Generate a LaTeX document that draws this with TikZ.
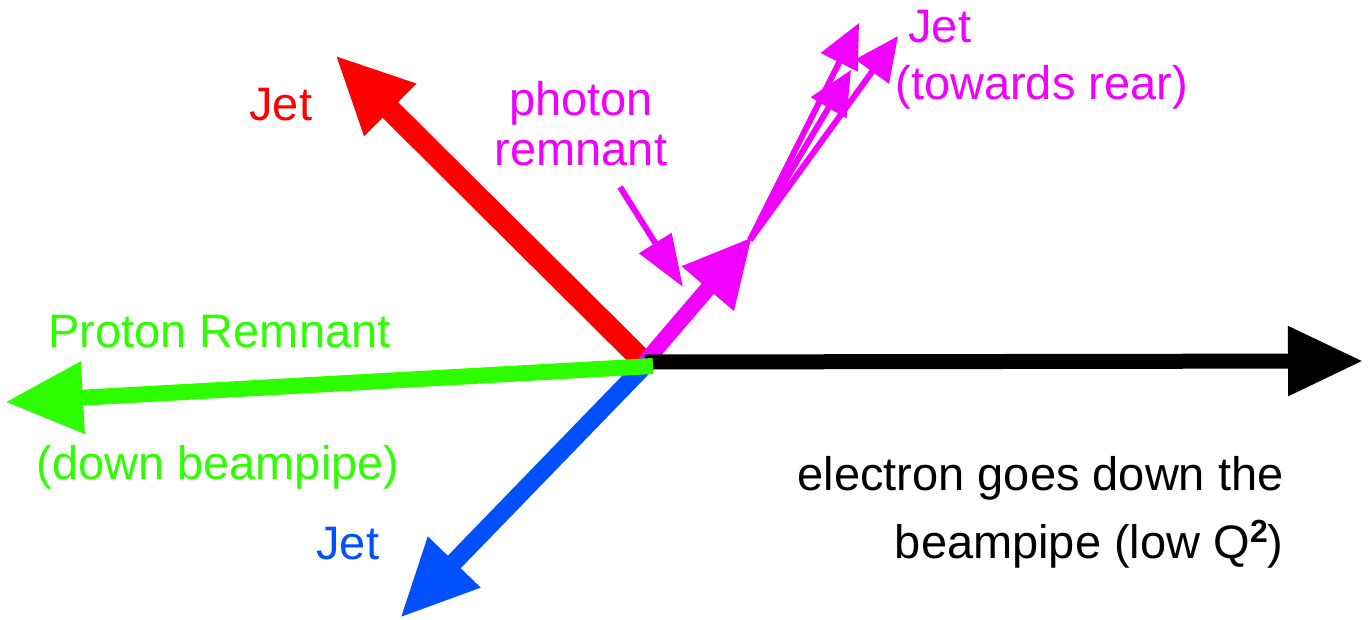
\documentclass[tikz,border=0pt]{standalone}
\usepackage{fontspec}
\setmainfont{Liberation Sans}
\usetikzlibrary{arrows.meta}
\definecolor{jetred}{RGB}{255,0,0}
\definecolor{jetmag}{RGB}{240,0,255}
\definecolor{remgreen}{RGB}{46,255,0}
\definecolor{jetblue}{RGB}{0,80,255}
\begin{document}
\begin{tikzpicture}[x=0.5pt, y=-0.5pt, line join=miter,
		lbl/.style={inner sep=0pt, font=\fontsize{23.5}{23.5}\selectfont},
		heavy/.style={line width=#1, -{Triangle[length=39pt, width=34pt]}},
		thin/.style={line width=3pt, -{Triangle[length=22pt, width=20pt]}}]
	\useasboundingbox (0,0) rectangle (1372,620);
	% vertex and arrow ends
	\coordinate (vtx) at (645,362);
	\coordinate (gstart) at (653,366);
	\coordinate (split) at (750,240);
	\coordinate (etip) at (1363,361);
	\coordinate (ptip) at (5,402);
	\coordinate (rtip) at (335,55);
	\coordinate (btip) at (400,618);
	\coordinate (mtip) at (752,237);
	% jets
	\draw[heavy=11pt, jetred] (648,366) -- (rtip);
	\draw[heavy=9pt, jetblue] (648,362) -- (btip);
	\draw[line width=8pt, jetmag, -{Triangle[length=34pt, width=32pt]}] (vtx) -- (mtip);
	\draw[thin, jetmag] (split) -- (859,23);
	\draw[thin, jetmag] (split) -- (898,36);
	\draw[thin, jetmag] (split) -- (851,70);
	% beams
	\draw[line width=7.5pt, -{Triangle[length=37.5pt, width=33pt]}] (vtx) -- (etip);
	\draw[heavy=8pt, remgreen] (gstart) -- (ptip);
	% labels
	\node[lbl, jetred, anchor=base west] (redjet) at (249,121) {Jet};
	\node[lbl, jetmag, anchor=base, align=center, font=\fontsize{23.5}{25}\selectfont] (phrem) at (581,166) {photon\\remnant};
	\draw[line width=3pt, jetmag, -{Triangle[length=26pt, width=18.5pt]}] (620,187) -- (683,287);
	\node[lbl, jetmag, anchor=base west, align=left, font=\fontsize{23.5}{28.5}\selectfont] (rearjet) at (895,100) {\hspace*{6.5pt}Jet\\(towards rear)};
	\node[lbl, remgreen, anchor=base west] (protrem) at (48,348) {Proton Remnant};
	\node[lbl, remgreen, anchor=base west] (downbp) at (36,480) {(down beampipe)};
	\node[lbl, jetblue, anchor=base west] (bluejet) at (316,559) {Jet};
	\node[lbl, anchor=base east, align=right, font=\fontsize{23.5}{34}\selectfont] (elec) at (1284,558)
		{electron goes down the\\beampipe (low Q\raisebox{8pt}{\fontsize{16}{16}\selectfont\bfseries 2})};
\end{tikzpicture}
\end{document}
